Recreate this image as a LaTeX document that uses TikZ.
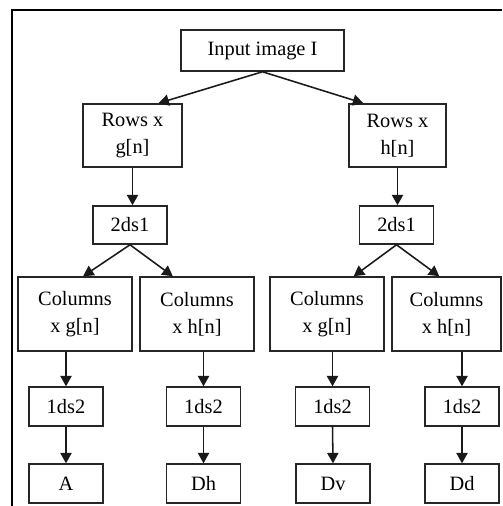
\documentclass[tikz,border=0pt]{standalone}
\usepackage{fontspec}
\setmainfont{Liberation Serif}
\usetikzlibrary{arrows.meta,positioning,calc}

\begin{document}
\begin{tikzpicture}[
  blk/.style={draw=black!85, line width=1.1pt, fill=white, align=center,
    inner sep=0pt, font=\fontsize{14.5}{19}\selectfont},
  small/.style={blk, minimum width=1.85cm, minimum height=0.97cm},
  arr/.style={draw=black!90, line width=1.1pt,
    -{Triangle[length=0.26cm,width=0.28cm]}}
]
\useasboundingbox (0,0) rectangle (12.55,-12.65);

% ================= OUTER FRAME (only top and left edges show) =================
\draw[line width=1.5pt] (0.29,-12.65) |- (12.55,-0.24);

% ================= INPUT AND ROW FILTERS =================
\node[blk, minimum width=4.075cm, minimum height=1.025cm] (in) at (6.5625,-1.2625) {Input image I};

\node[blk, minimum width=2.475cm, minimum height=1.575cm] (rg) at (3.3125,-3.3875) {Rows x\\g[n]};
\node[blk, minimum width=2.425cm, minimum height=1.575cm] (rh) at (9.9375,-3.3875) {Rows x\\h[n]};

% ================= FIRST DOWNSAMPLING =================
\node[small, minimum height=0.95cm] (d1) at (3.25,-5.625) {2ds1};
\node[small, minimum height=0.95cm] (d2) at (9.9125,-5.625) {2ds1};

% ================= COLUMN FILTERS =================
\node[blk, minimum width=2.85cm, minimum height=1.85cm] (c1) at (1.875,-7.85) {Columns\\x g[n]};
\node[blk, minimum width=2.85cm, minimum height=1.85cm] (c2) at (4.925,-7.85) {Columns\\x h[n]};
\node[blk, minimum width=2.85cm, minimum height=1.85cm] (c3) at (8.175,-7.85) {Columns\\x g[n]};
\node[blk, minimum width=2.725cm, minimum height=1.85cm] (c4) at (11.1625,-7.85) {Columns\\x h[n]};

% ================= SECOND DOWNSAMPLING AND SUBBANDS =================
\node[small] (s1) at (1.65,-10.1625) {1ds2};
\node[small] (s2) at (5.0875,-10.1625) {1ds2};
\node[small] (s3) at (8.3125,-10.1625) {1ds2};
\node[small] (s4) at (11.55,-10.1625) {1ds2};

\node[small] (o1) at (1.65,-12.0875) {A};
\node[small] (o2) at (5.0875,-12.0875) {Dh};
\node[small] (o3) at (8.325,-12.0875) {Dv};
\node[small] (o4) at (11.55,-12.0875) {Dd};

% ================= CONNECTORS =================
\draw[arr] (in.south) -- ([xshift=-2.6cm]in.south |- rg.north);
\draw[arr] (in.south) -- ([xshift=2.52cm]in.south |- rh.north);

\draw[arr] (rg.south) -- (rg.south |- d1.north);
\draw[arr] (rh.south) -- (rh.south |- d2.north);

\draw[arr] (d1.south) -- ([xshift=-1.17cm]d1.south |- c1.north);
\draw[arr] (d1.south) -- ([xshift=1.07cm]d1.south |- c2.north);
\draw[arr] (d2.south) -- ([xshift=-1.07cm]d2.south |- c3.north);
\draw[arr] (d2.south) -- ([xshift=1.07cm]d2.south |- c4.north);

\foreach \i in {1,...,4} {
  \draw[arr] (s\i.north |- c\i.south) -- (s\i.north);
  \draw[arr] (s\i.south) -- (o\i.north);
}

\end{tikzpicture}
\end{document}
